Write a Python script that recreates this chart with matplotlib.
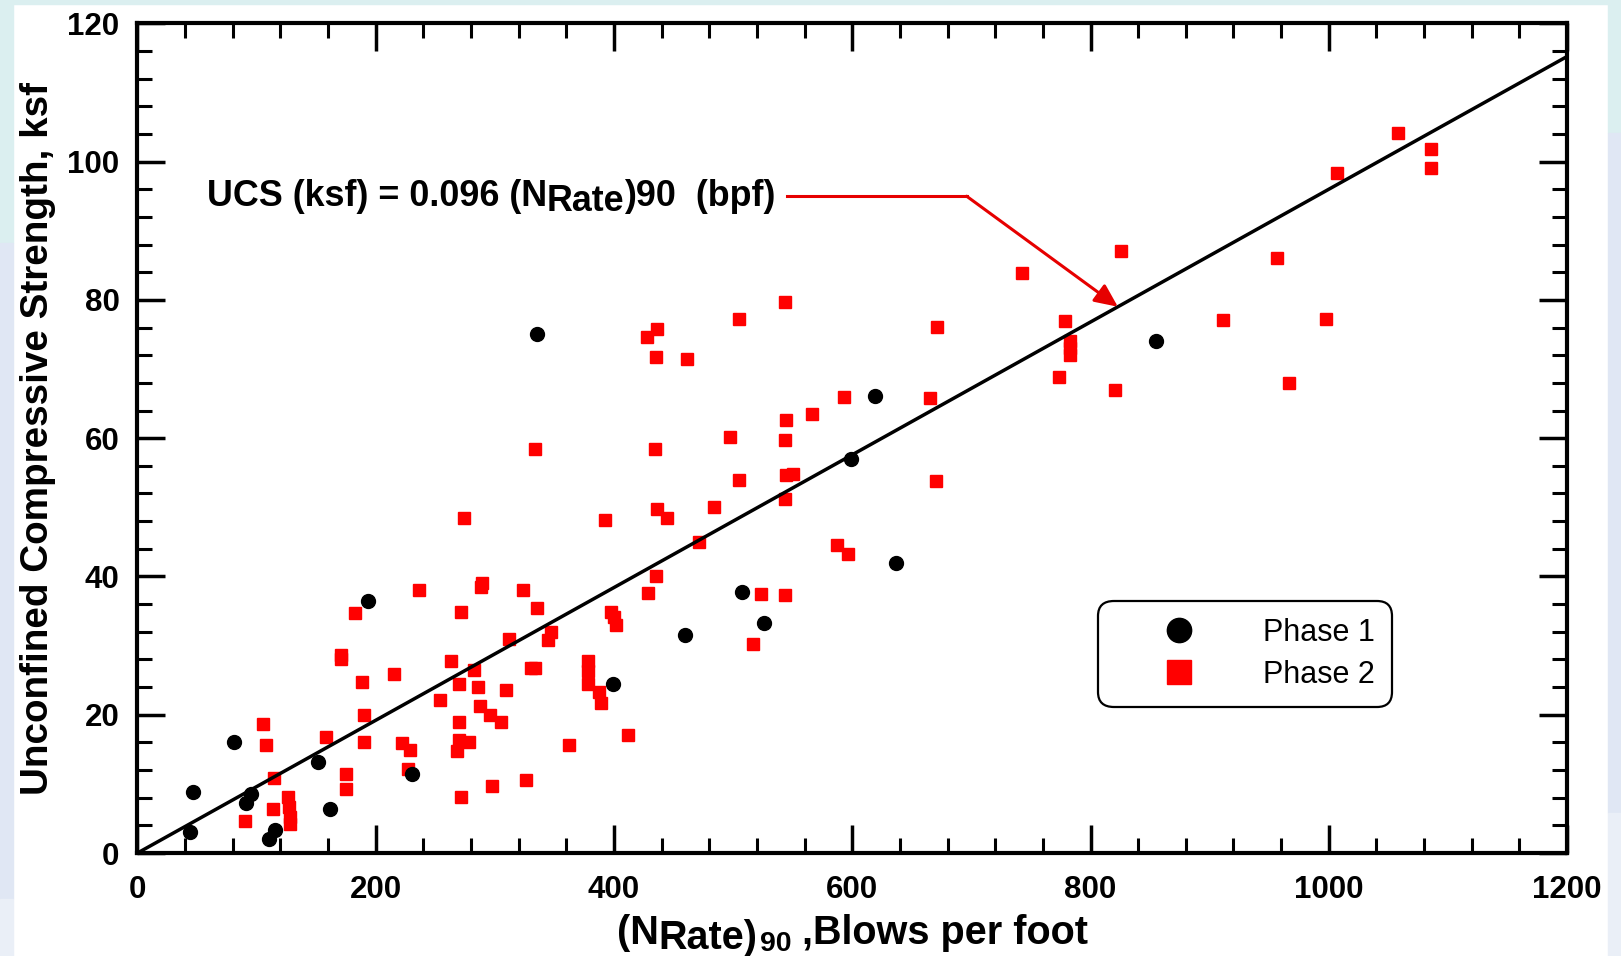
import matplotlib
matplotlib.use("Agg")
import matplotlib.pyplot as plt
from matplotlib.lines import Line2D
from matplotlib.patches import Rectangle
from matplotlib.ticker import MultipleLocator

# Phase 1 (black circles)
phase1_x = [43.8, 46.6, 81, 91.4, 95.5, 110.5, 115.2, 151.6, 161.5, 193.7,
            230.8, 335.6, 399.5, 459.4, 507.2, 526.3, 599, 619.2, 636.9, 855.2]
phase1_y = [3.0, 8.8, 16.0, 7.2, 8.6, 2.0, 3.3, 13.1, 6.4, 36.5,
            11.4, 75.1, 24.5, 31.5, 37.8, 33.2, 57.0, 66.1, 42.0, 74.1]

# Phase 2 (red squares)
phase2_x = [90.3, 105.4, 107.7, 114.6, 113.8, 126, 127, 128, 128, 158,
            171, 171, 174.8, 174.8, 182.7, 188.9, 190.2, 190.2, 215.4, 222.3,
            228.9, 227.2, 236.2, 253.8, 263.1, 268.6, 270.1, 270.1, 270.1, 271.5,
            272, 273.7, 278.4, 282.7, 285.5, 287.5, 289.6, 288.3, 295.8, 298,
            305, 309.2, 312, 323.8, 326.1, 330, 333.5, 333.9, 335.8, 344.2,
            347, 361.9, 377.8, 378.6, 377.8, 387.7, 389, 392.4, 397.5, 400.3,
            401.7, 412, 427.4, 435.8, 435.5, 434.4, 436.1, 435.5, 428.2, 444.5,
            461.3, 471.1, 484.2, 497.1, 505.3, 505, 516.4, 523.5, 543.4, 543.4,
            544.5, 543.4, 543.9, 544.5, 550.6, 566.6, 587.3, 593.1, 596.3, 664.9,
            670.4, 671.3, 742.5, 773.8, 778.6, 783.1, 783.1, 783.1, 820.3, 825.8,
            911, 956.2, 966.6, 997.5, 1006.5, 1057.8, 1085.5, 1085.5]
phase2_y = [4.7, 18.6, 15.6, 10.8, 6.3, 8.1, 6.6, 5.2, 4.2, 16.8,
            28.7, 28.1, 11.5, 9.2, 34.7, 24.8, 20.0, 16.0, 25.9, 15.9,
            14.9, 12.1, 38.0, 22.1, 27.8, 14.7, 18.9, 24.5, 16.3, 8.1,
            34.9, 48.4, 16.0, 26.5, 24.0, 21.2, 39.0, 38.5, 20.0, 9.7,
            18.9, 23.6, 31.0, 38.0, 10.5, 26.7, 26.7, 58.4, 35.5, 30.8,
            32.0, 15.6, 27.8, 26.3, 24.4, 23.3, 21.7, 48.1, 34.9, 34.2,
            33.0, 17.1, 74.6, 75.8, 71.7, 58.5, 49.8, 40.1, 37.6, 48.5,
            71.4, 45.0, 50.0, 60.1, 77.2, 53.9, 30.2, 37.5, 37.3, 79.7,
            62.6, 59.7, 51.2, 54.7, 54.8, 63.5, 44.5, 65.9, 43.2, 65.8,
            53.8, 76.1, 83.9, 68.9, 76.9, 74.0, 73.0, 72.0, 67.0, 87.0,
            77.1, 86.0, 68.0, 77.3, 98.3, 104.1, 101.8, 99.1]

slope = 0.096
fit_x = [0, 1200]
fit_y = [slope * v for v in fit_x]

plt.rcParams['font.family'] = 'Liberation Sans'
plt.rcParams['font.weight'] = 'bold'
plt.rcParams['axes.labelweight'] = 'bold'

fig = plt.figure(figsize=(16.21, 9.56), dpi=100)

# pale framing strips around the white panel
teal, lav, pale = '#dbeff0', '#e0e7f4', '#eaeff7'
for x0, w, y0, h, c in [(0, 1, 0.9958, 0.0042, teal),
                        (0, 0.0078, 0.746, 0.254, teal),
                        (0, 0.0078, 0.06, 0.686, lav),
                        (0, 0.0078, 0, 0.06, pale),
                        (0.992, 0.008, 0.861, 0.139, teal),
                        (0.992, 0.008, 0.15, 0.711, lav),
                        (0.992, 0.008, 0, 0.15, pale)]:
    fig.patches.append(Rectangle((x0, y0), w, h, transform=fig.transFigure,
                                 color=c, zorder=0))

ax = fig.add_axes([0.0848, 0.1077, 0.8819, 0.8679])

ax.plot(phase2_x, phase2_y, 's', color='#ff0000', markersize=9, zorder=2)
ax.plot(phase1_x, phase1_y, 'o', color='black', markersize=10, zorder=3)
ax.plot(fit_x, fit_y, color='black', linewidth=2.5, zorder=4)

ax.set_xlim(0, 1200)
ax.set_ylim(0, 120)
ax.xaxis.set_major_locator(MultipleLocator(200))
ax.xaxis.set_minor_locator(MultipleLocator(40))
ax.yaxis.set_major_locator(MultipleLocator(20))
ax.yaxis.set_minor_locator(MultipleLocator(4))

ax.tick_params(which='both', direction='in', top=True, right=True)
ax.tick_params(which='major', length=20, width=2.5, labelsize=22.5)
ax.tick_params(which='minor', length=11, width=2.2)
ax.tick_params(axis='x', which='major', pad=16)
ax.tick_params(axis='y', which='major', pad=13)
for s in ax.spines.values():
    s.set_linewidth(3)

ax.set_ylabel('Unconfined Compressive Strength, ksf', fontsize=27.8, labelpad=8)

# x label pieces: (N, lowered "Rate)", subscript 90, rest
big = dict(family='Liberation Sans', weight='bold', size=28.5)
p1 = ax.text(0.3354, -0.1195, '(N', transform=ax.transAxes,
             va='bottom', ha='left', **big)
p2 = ax.annotate('Rate)', xy=(1, 0), xycoords=p1, xytext=(0, -3.6),
                 textcoords='offset points', va='bottom', ha='left', **big)
p3 = ax.annotate('90', xy=(1, 0), xycoords=p2, xytext=(1.5, 0.4),
                 textcoords='offset points', va='bottom', ha='left',
                 family='Liberation Sans', weight='bold', size=20.5)
ax.annotate(' ,Blows per foot', xy=(1, 0), xycoords=p3, xytext=(0, 3.2),
            textcoords='offset points', va='bottom', ha='left', **big)

# equation text with arrow to the fitted line
font = dict(family='Liberation Sans', weight='bold', size=25.8)
t1 = ax.text(58, 95, 'UCS (ksf) = 0.096 (N', va='center', ha='left', **font)
t2 = ax.annotate('Rate', xy=(1, 0), xycoords=t1, xytext=(0, -3.6),
                 textcoords='offset points', va='bottom', ha='left', **font)
ax.annotate(')90  (bpf)', xy=(1, 0), xycoords=t2, xytext=(0, 3.6),
            textcoords='offset points', va='bottom', ha='left', **font)

arrow_y = 95
arrow_x = [545, 696]
tip_x = 823
ax.plot(arrow_x, [arrow_y, arrow_y], color='#e60000', linewidth=2.2, zorder=5)
ax.annotate('', xy=(tip_x, slope * tip_x), xytext=(arrow_x[1], arrow_y),
            arrowprops=dict(arrowstyle='-|>,head_length=0.7,head_width=0.32',
                            color='#e60000', lw=2.2, shrinkA=0, shrinkB=0,
                            mutation_scale=20), zorder=5)

handles = [Line2D([], [], marker='o', color='black', linestyle='none', markersize=17.5),
           Line2D([], [], marker='s', color='#ff0000', linestyle='none', markersize=17.5)]
leg = ax.legend(handles, ['Phase 1', 'Phase 2'], loc='center',
                bbox_to_anchor=(0.7748, 0.2398),
                prop={'family': 'Liberation Sans', 'weight': 'normal', 'size': 22},
                handlelength=4.2, handletextpad=0.65, borderpad=0.55,
                labelspacing=0.4, fancybox=True, framealpha=1, edgecolor='black')
leg.get_frame().set_linewidth(1.6)
leg.get_frame().set_boxstyle('round', pad=0, rounding_size=0.5)

fig.savefig('out.png', dpi=100, facecolor='white')
